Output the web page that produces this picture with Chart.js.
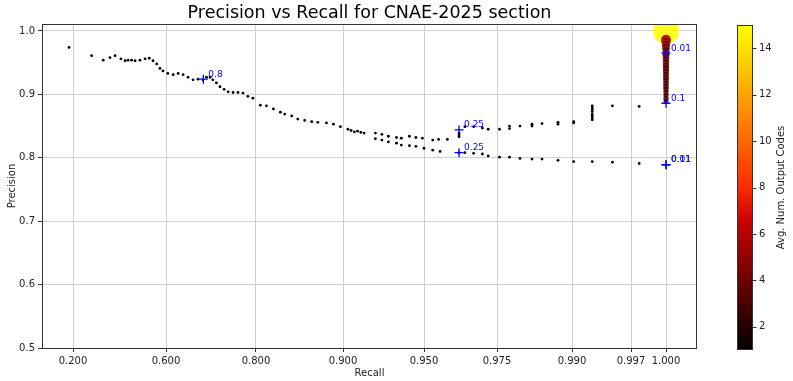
<!DOCTYPE html>
<html><head><meta charset="utf-8">
<script src="https://cdn.jsdelivr.net/npm/chart.js@4.4.1/dist/chart.umd.min.js"></script>
<style>html,body{margin:0;padding:0;background:#fff}</style>
</head><body>
<canvas id="c" width="793" height="381"></canvas>
<script>
// ---------- DATA ----------
const recallTicks = [0.2, 0.6, 0.8, 0.9, 0.95, 0.975, 0.99, 0.997, 1.0];
const recallTickLabels = ['0.200','0.600','0.800','0.900','0.950','0.975','0.990','0.997','1.000'];
const precisionTicks = [0.5, 0.6, 0.7, 0.8, 0.9, 1.0];
const colorbarTicks = [2, 4, 6, 8, 10, 12, 14];

// main curve (Avg. Num. Output Codes = 1)
const curveRecall = [0.183,0.280,0.330,0.359,0.381,0.406,0.424,0.437,0.452,0.467,0.488,0.510,0.528,0.544,0.560,0.574,0.587,0.604,0.616,0.627,0.638,0.649,0.660,0.671,0.682,0.690,0.698,0.704,0.712,0.720,0.729,0.738,0.749,0.760,0.771,0.782,0.793,0.805,0.812,0.820,0.828,0.833,0.841,0.848,0.856,0.864,0.871,0.881,0.889,0.897,0.903,0.905,0.907,0.909,0.911,0.913,
  0.920,0.924,0.928,0.933,0.936,0.941,0.945,0.949,0.953,0.955,0.958,0.962,0.962,0.962,0.964,0.967,0.970,0.972,0.9755,0.9775,0.9775,0.9796,0.982,0.982,0.984,0.9872,0.9872,0.9902,0.9902,
  0.9924,0.9924,0.9924,0.9924,0.9924,0.9924,0.9924,0.9924,0.9948,0.9977];
const curvePrecision = [0.974,0.961,0.954,0.958,0.961,0.956,0.953,0.954,0.954,0.953,0.954,0.956,0.957,0.953,0.948,0.941,0.937,0.933,0.931,0.933,0.931,0.927,0.923,0.924,0.923,0.927,0.927,0.923,0.918,0.912,0.908,0.904,0.903,0.903,0.902,0.897,0.894,0.883,0.882,0.877,0.872,0.869,0.866,0.861,0.859,0.857,0.856,0.855,0.853,0.849,0.845,0.843,0.841,0.842,0.840,0.839,
  0.839,0.837,0.834,0.832,0.831,0.834,0.832,0.831,0.828,0.829,0.829,0.839,0.836,0.833,0.849,0.849,0.847,0.845,0.845,0.850,0.846,0.850,0.853,0.850,0.854,0.856,0.853,0.857,0.855,
  0.882,0.879,0.876,0.873,0.869,0.866,0.863,0.860,0.882,0.881];

// lower branch (Avg. Num. Output Codes = 1)
const branchRecall = [0.920,0.924,0.928,0.933,0.936,0.941,0.945,0.950,0.953,0.9555,0.962,0.964,0.967,0.970,0.972,0.9755,0.9775,0.9796,0.982,0.984,0.9872,0.9902,0.9924,0.9948,0.9977];
const branchPrecision = [0.830,0.828,0.825,0.823,0.820,0.819,0.818,0.815,0.812,0.810,0.808,0.808,0.807,0.806,0.803,0.801,0.801,0.799,0.798,0.798,0.796,0.794,0.794,0.793,0.791];

// points at recall = 1.000, coloured by avg. number of output codes
const fullRecallPrecision = [1.000,0.986,0.983,0.979,0.975,0.970,0.965,0.961,0.956,0.951,0.946,0.942,0.937,0.932,0.927,0.923,0.918,0.913,0.909,0.904,0.899,0.894,0.890];
const fullRecallCodes = [15,5.6,5.0,4.5,4.2,4.0,3.8,3.7,3.6,3.5,3.4,3.4,3.3,3.2,3.2,3.1,3.0,3.0,2.9,2.8,2.8,2.7,2.6];

// threshold annotations
const thresholdRecall = [0.683, 0.962, 0.962, 1.0, 1.0, 1.0, 1.0];
const thresholdPrecision = [0.924, 0.844, 0.808, 0.965, 0.886, 0.789, 0.789];
const thresholdLabels = ['0.8', '0.25', '0.25', '0.01', '0.1', '0.01', '0.11'];

// ---------- SCALE (non-uniform recall axis) ----------
const recallAnchorPos = [31, 124, 214, 301, 382, 455, 530, 589, 624];
const recallAxisMax = 655;
function recallToPos(r) {
  const a = recallTicks, p = recallAnchorPos;
  if (r <= a[0]) return p[0] + (r - a[0]) * (p[1] - p[0]) / (a[1] - a[0]);
  for (let i = 1; i < a.length; i++) {
    if (r <= a[i]) return p[i-1] + (r - a[i-1]) * (p[i] - p[i-1]) / (a[i] - a[i-1]);
  }
  const n = a.length - 1;
  return p[n] + (r - a[n]) * (p[n] - p[n-1]) / (a[n] - a[n-1]);
}
const cMin = 1, cMax = 15;
function codeColor(v, alpha) {
  const t = Math.max(0, Math.min(1, (v - cMin) / (cMax - cMin)));
  const r = Math.min(1, t / 0.5) * 255;
  const g = Math.max(0, (t - 0.4) / 0.6) * 255;
  return `rgba(${Math.round(r)},${Math.round(g)},0,${alpha ?? 1})`;
}
function codeRadius(v) { return 0.85 * v + 0.3; }

const mk = (xs, ys) => xs.map((x, i) => ({ x: recallToPos(x), y: ys[i] }));
const blackPts = mk(curveRecall, curvePrecision).concat(mk(branchRecall, branchPrecision));
const fullPts = fullRecallPrecision.map((p, i) => ({ x: recallToPos(1.0), y: p, c: fullRecallCodes[i] }));
const thrPts = mk(thresholdRecall, thresholdPrecision);

const FONT = "'DejaVu Sans', sans-serif";

const overlay = {
  id: 'overlay',
  afterDatasetsDraw(chart) {
    const ctx = chart.ctx;
    const xs = chart.scales.x, ys = chart.scales.y;
    ctx.save();
    ctx.fillStyle = '#0000ff';
    ctx.font = '9px ' + FONT;
    ctx.textBaseline = 'middle';
    ctx.textAlign = 'left';
    thresholdLabels.forEach((t, i) => {
      const px = xs.getPixelForValue(recallToPos(thresholdRecall[i]));
      const py = ys.getPixelForValue(thresholdPrecision[i]);
      ctx.fillText(t, px + 5, py - 5);
    });
    ctx.restore();
  },
  afterDraw(chart) {
    const ctx = chart.ctx, a = chart.chartArea;
    ctx.save();
    ctx.strokeStyle = '#333';
    ctx.lineWidth = 1;
    ctx.strokeRect(a.left + 0.5, a.top + 0.5, a.right - a.left - 1, a.bottom - a.top);
    ctx.fillStyle = '#000';
    ctx.font = '17.5px ' + FONT;
    ctx.textAlign = 'center';
    ctx.textBaseline = 'middle';
    ctx.fillText('Precision vs Recall for CNAE-2025 section', (a.left + a.right) / 2, 13);
    ctx.font = '10px ' + FONT;
    ctx.fillStyle = '#222';
    ctx.fillText('Recall', (a.left + a.right) / 2, 373);
    ctx.save();
    ctx.translate(12, (a.top + a.bottom) / 2);
    ctx.rotate(-Math.PI / 2);
    ctx.fillText('Precision', 0, 0);
    ctx.restore();
    // colorbar
    const bx = 737, bw = 16, top = a.top + 1, bot = a.bottom + 2;
    const grad = ctx.createLinearGradient(0, bot, 0, top);
    for (let k = 0; k <= 40; k++) {
      const v = cMin + (cMax - cMin) * k / 40;
      grad.addColorStop(k / 40, codeColor(v));
    }
    ctx.fillStyle = grad;
    ctx.fillRect(bx, top, bw, bot - top);
    ctx.strokeStyle = '#333';
    ctx.strokeRect(bx + 0.5, top + 0.5, bw - 1, bot - top - 1);
    ctx.fillStyle = '#222';
    ctx.textAlign = 'left';
    ctx.font = '10px ' + FONT;
    colorbarTicks.forEach(v => {
      const y = bot - (v - cMin) / (cMax - cMin) * (bot - top);
      ctx.beginPath();
      ctx.moveTo(bx + bw, Math.round(y) + 0.5);
      ctx.lineTo(bx + bw + 3.5, Math.round(y) + 0.5);
      ctx.stroke();
      ctx.fillText(String(v), bx + bw + 6, y);
    });
    ctx.save();
    ctx.translate(781, (top + bot) / 2);
    ctx.rotate(-Math.PI / 2);
    ctx.textAlign = 'center';
    ctx.fillText('Avg. Num. Output Codes', 0, 0);
    ctx.restore();
    ctx.restore();
  }
};

new Chart(document.getElementById('c'), {
  type: 'scatter',
  data: {
    datasets: [
      { label: 'thresholds', data: thrPts, order: 0, pointStyle: 'cross', pointRadius: 4.5,
        borderColor: '#0000ff', backgroundColor: '#0000ff', pointBorderWidth: 1.3 },
      { label: 'recall 1.0', data: fullPts, order: 1, pointStyle: 'circle',
        pointRadius: ctx => codeRadius(ctx.raw.c),
        backgroundColor: ctx => codeColor(ctx.raw.c, ctx.raw.c > 10 ? 0.85 : 0.92),
        borderColor: 'rgba(255,255,255,0.35)', borderWidth: 0.4 },
      { label: 'curve', data: blackPts, order: 2, pointStyle: 'circle', pointRadius: 1.4,
        backgroundColor: '#000', borderWidth: 0 }
    ]
  },
  options: {
    responsive: false,
    animation: false,
    devicePixelRatio: 1,
    layout: { padding: { left: 0, right: 96, top: 24, bottom: 0 } },
    plugins: { legend: { display: false }, tooltip: { enabled: false } },
    scales: {
      x: {
        type: 'linear', min: 0, max: recallAxisMax,
        afterBuildTicks: s => { s.ticks = recallTicks.map(r => ({ value: recallToPos(r) })); },
        afterFit: s => { s.height = 33; },
        ticks: { callback: (v, i) => recallTickLabels[i], font: { family: FONT, size: 10 }, color: '#222', padding: 3, maxRotation: 0, autoSkip: false },
        grid: { color: '#cfcfcf', lineWidth: 1, tickColor: '#333', tickLength: 4 },
        border: { display: false }
      },
      y: {
        type: 'linear', min: 0.5, max: 1.011,
        afterBuildTicks: s => { s.ticks = precisionTicks.map(v => ({ value: v })); },
        afterFit: s => { s.width = 42; },
        ticks: { callback: v => v.toFixed(1), font: { family: FONT, size: 10 }, color: '#222', padding: 3 },
        grid: { color: '#cfcfcf', lineWidth: 1, tickColor: '#333', tickLength: 4 },
        border: { display: false }
      }
    }
  },
  plugins: [overlay]
});
</script>
</body></html>
